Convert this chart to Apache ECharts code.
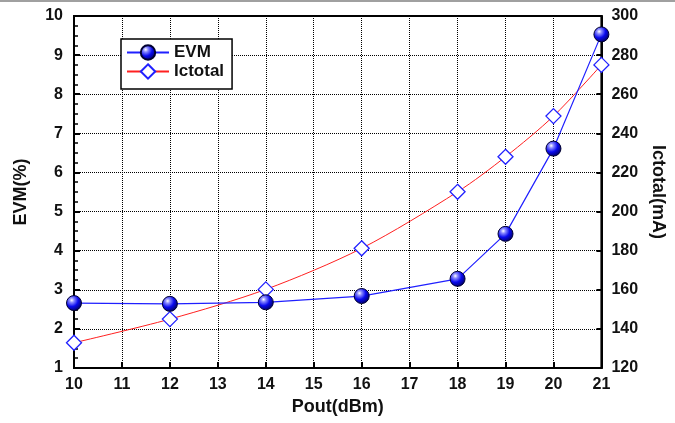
<!DOCTYPE html>
<html>
<head>
<meta charset="utf-8">
<script src="https://cdn.jsdelivr.net/npm/echarts@6/dist/echarts.min.js"></script>
<style>html,body{margin:0;padding:0;background:#fff}#c{width:675px;height:423px}</style>
</head>
<body>
<div id="c"></div>
<script>
const poutValues = [10, 12, 14, 16, 18, 19, 20, 21];
const evmValues = [2.66, 2.64, 2.68, 2.84, 3.28, 4.43, 6.61, 9.53];
const ictotalValues = [132.9, 145.0, 160.2, 181.2, 210.1, 228.0, 248.8, 275.0];

const FONT = '"Liberation Sans", Arial, sans-serif';
const chart = echarts.init(document.getElementById('c'), null, {renderer: 'canvas'});
const sphere = {
  type: 'radial', x: 0.36, y: 0.32, r: 0.72,
  colorStops: [
    {offset: 0, color: '#ffffff'},
    {offset: 0.2, color: '#8c8cff'},
    {offset: 0.55, color: '#0a0aee'},
    {offset: 1, color: '#00005a'}
  ]
};
const tickLabel = {color: '#111', fontFamily: FONT, fontWeight: 'bold', fontSize: 16};
const nameStyle = {color: '#111', fontFamily: FONT, fontWeight: 'bold', fontSize: 18};
chart.setOption({
  animation: false,
  backgroundColor: '#fff',
  graphic: [{type: 'rect', shape: {x: 0, y: 0, width: 675, height: 2}, style: {fill: '#a0a0a0'}, silent: true}],
  grid: {left: 74, right: 71, top: 16, bottom: 55, show: true, borderColor: '#000', borderWidth: 2},
  legend: {
    orient: 'vertical', left: 121, top: 39,
    backgroundColor: '#fff', borderColor: '#000', borderWidth: 1.5,
    padding: [5, 8, 9, 5], itemWidth: 42, itemHeight: 18, itemGap: 2,
    textStyle: {color: '#111', fontFamily: FONT, fontWeight: 'bold', fontSize: 17},
    data: ['EVM', 'Ictotal']
  },
  xAxis: {
    type: 'value', min: 10, max: 21, interval: 1,
    name: 'Pout(dBm)', nameLocation: 'middle', nameGap: 27, nameTextStyle: nameStyle,
    axisLine: {lineStyle: {color: '#000', width: 2}},
    axisTick: {inside: true, length: 6, lineStyle: {color: '#000', width: 2}},
    axisLabel: Object.assign({margin: 9}, tickLabel),
    splitLine: {show: true, lineStyle: {color: '#000', type: 'dotted', width: 1}}
  },
  yAxis: [{
    type: 'value', min: 1, max: 10, interval: 1, position: 'left',
    name: 'EVM(%)', nameLocation: 'middle', nameGap: 44, nameRotate: 90, nameTextStyle: nameStyle,
    axisLine: {show: true, lineStyle: {color: '#000', width: 2}},
    axisTick: {inside: true, length: 6, lineStyle: {color: '#000', width: 2}},
    minorTick: {show: true, splitNumber: 4, length: 4, lineStyle: {color: '#000', width: 1.5}},
    axisLabel: Object.assign({margin: 11}, tickLabel),
    splitLine: {show: true, lineStyle: {color: '#000', type: 'dotted', width: 1}}
  }, {
    type: 'value', min: 120, max: 300, interval: 20, position: 'right',
    name: 'Ictotal(mA)', nameLocation: 'middle', nameGap: 45, nameRotate: -90, nameTextStyle: nameStyle,
    axisLine: {show: true, lineStyle: {color: '#000', width: 2}},
    axisTick: {inside: true, length: 5, lineStyle: {color: '#000', width: 2}},
    axisLabel: Object.assign({margin: 10}, tickLabel),
    splitLine: {show: false}
  }],
  series: [{
    name: 'Ictotal', type: 'line', yAxisIndex: 1, smooth: 0.3,
    data: poutValues.map((x, i) => [x, ictotalValues[i]]),
    symbol: 'diamond', symbolSize: 15,
    lineStyle: {color: '#ff2020', width: 1},
    itemStyle: {color: '#ffffff', borderColor: '#2020ff', borderWidth: 1.3},
    z: 2
  }, {
    name: 'EVM', type: 'line', yAxisIndex: 0, smooth: false,
    data: poutValues.map((x, i) => [x, evmValues[i]]),
    symbol: 'circle', symbolSize: 15,
    lineStyle: {color: '#2020ff', width: 1.2},
    itemStyle: {color: sphere, borderColor: '#000030', borderWidth: 1},
    z: 3
  }]
});
</script>
</body>
</html>
